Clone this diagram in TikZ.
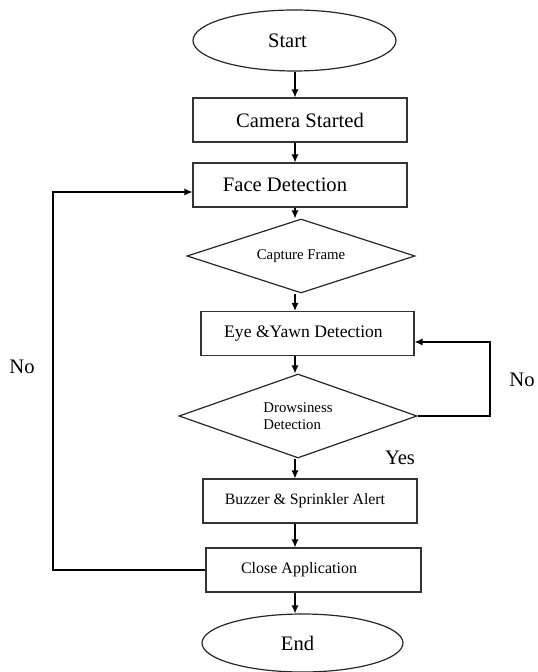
\documentclass[tikz,border=0pt]{standalone}
\usepackage{fontspec}
\setmainfont{Liberation Serif}
\usetikzlibrary{shapes.geometric, arrows.meta, positioning, calc}
\tikzset{
    terminal/.style={ellipse, draw=black!85, line width=0.6pt, inner sep=0pt, minimum width=101.5pt, minimum height=30.5pt, font=\fontsize{10.3}{12}\selectfont},
    stepbox/.style={rectangle, draw=black!80, line width=0.6pt, inner sep=0pt, minimum width=107pt, minimum height=22pt},
    decision/.style={diamond, shape aspect=3, draw=black!85, line width=0.6pt, inner sep=0pt},
    answer/.style={font=\fontsize{10.3}{12}\selectfont},
    arrow/.style={line width=0.6pt, -{Latex[length=4pt,width=3.6pt]}}
}
\newcommand{\nudge}[2]{\kern#1\relax#2\kern-#1\relax}

\begin{document}
\begin{tikzpicture}[x=0.5pt, y=-0.5pt]
    \useasboundingbox (0,0) rectangle (537,672);
    \coordinate (spine) at (295,0);

    \node (start) [terminal] at (294.5,40.5) {\nudge{-3.5pt}{Start}};
    \node (cam) [stepbox, font=\fontsize{10.3}{12}\selectfont] at (300,120) {Camera Started};
    \node (face) [stepbox, font=\fontsize{10.3}{12}\selectfont] at (300,185) {\nudge{-7.5pt}{Face Detection}};
    \node (capture) [decision, minimum width=114pt, minimum height=37pt, font=\fontsize{7.4}{8.5}\selectfont] at (301,256) {Capture Frame};
    \node (eye) [stepbox, minimum width=106.5pt, font=\fontsize{8.8}{10}\selectfont] at (307.5,333.5) {\nudge{-2pt}{Eye \&Yawn Detection}};
    \node (drowsy) [decision, minimum width=119pt, minimum height=42pt, align=left, font=\fontsize{7.4}{8.5}\selectfont] at (298,416) {Drowsiness\\Detection};
    \node (buzzer) [stepbox, font=\fontsize{7.9}{9}\selectfont] at (310,501) {\nudge{-2.5pt}{Buzzer \& Sprinkler Alert}};
    \node (close) [stepbox, minimum width=107.5pt, font=\fontsize{8}{9}\selectfont] at (313.5,570) {\nudge{-7.25pt}{Close Application}};
    \node (end) [terminal, minimum width=100.5pt, minimum height=29pt] at (302.5,643) {\nudge{-2.5pt}{End}};

    % answers
    \node (noleft) [answer] at (22,367) {No};
    \node (noright) [answer] at (522,380) {No};
    \node (yes) [answer] at (400,458) {Yes};

    % main flow
    \draw [arrow] (start.south -| spine) -- (cam.north -| spine);
    \draw [arrow] (cam.south -| spine) -- (face.north -| spine);
    \draw [arrow] (face.south -| spine) -- (capture.north -| spine);
    \draw [arrow] (capture.south -| spine) -- (eye.north -| spine);
    \draw [arrow] (eye.south -| spine) -- (drowsy.north -| spine);
    \draw [arrow] (drowsy.south -| spine) -- (buzzer.north -| spine);
    \draw [arrow] (buzzer.south -| spine) -- (close.north -| spine);
    \draw [arrow] (close.south -| spine) -- (end.north -| spine);

    % loops back
    \coordinate (noR) at (490,342);
    \coordinate (noL) at (53,192);
    \draw [arrow] (drowsy.east) -| (noR) -- (noR -| eye.east);
    \draw [arrow] (close.west) -| (noL) -- (noL -| face.west);
\end{tikzpicture}
\end{document}
